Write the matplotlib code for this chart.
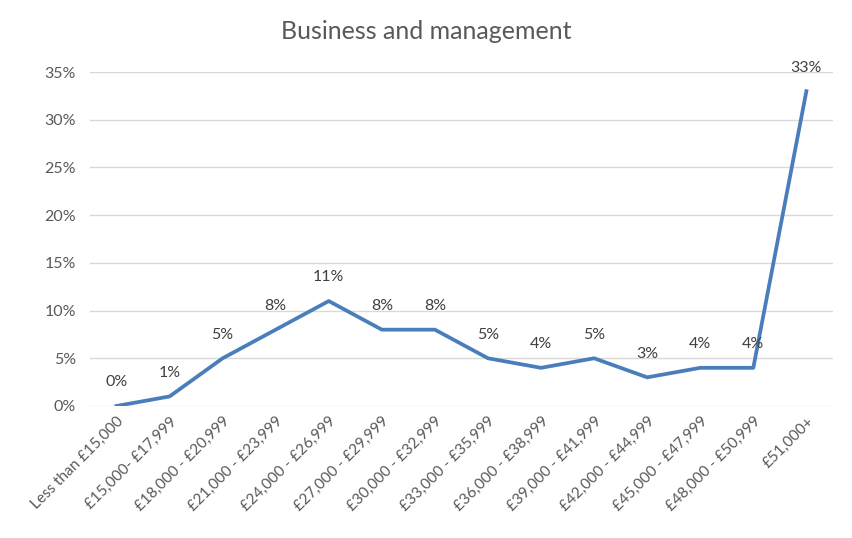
import matplotlib.pyplot as plt

plt.rcParams['font.family'] = ['Lato', 'DejaVu Sans']

categories = ['Less than £15,000', '£15,000- £17,999', '£18,000 - £20,999',
              '£21,000 - £23,999', '£24,000 - £26,999', '£27,000 - £29,999',
              '£30,000 - £32,999', '£33,000 - £35,999', '£36,000 - £38,999',
              '£39,000 - £41,999', '£42,000 - £44,999', '£45,000 - £47,999',
              '£48,000 - £50,999', '£51,000+']
values = [0, 1, 5, 8, 11, 8, 8, 5, 4, 5, 3, 4, 4, 33]
yticks = [0, 5, 10, 15, 20, 25, 30, 35]

text_color = '#595959'
line_color = '#4a7ebb'

fig = plt.figure(figsize=(8.52, 5.38), dpi=100)
ax = fig.add_axes([0.1056, 0.2454, 0.872, 0.6206])

x = range(len(categories))
ax.plot(x, values, color=line_color, linewidth=2.7, solid_joinstyle='round')

for i, v in zip(x, values):
    ax.annotate(f'{v}%', (i, v), xytext=(0, 17), textcoords='offset points',
                ha='center', va='center', fontsize=11.5, color='#404040')

ax.set_xlim(-0.5, len(categories) - 0.5)
ax.set_ylim(0, 35)
ax.set_yticks(yticks)
ax.set_yticklabels([f'{t}%' for t in yticks])
ax.set_xticks(list(x))
ax.set_xticklabels(categories, rotation=45, ha='right', rotation_mode='anchor')

ax.grid(axis='y', color='#d9d9d9', linewidth=1)
ax.set_axisbelow(True)
for s in ax.spines.values():
    s.set_visible(False)
ax.tick_params(length=0, colors=text_color)
ax.tick_params(axis='y', pad=10, labelsize=11.5)
ax.tick_params(axis='x', pad=6, labelsize=11)

fig.suptitle('Business and management', x=0.5, y=0.963, fontsize=18, color=text_color)

fig.savefig('out.png', dpi=100)
